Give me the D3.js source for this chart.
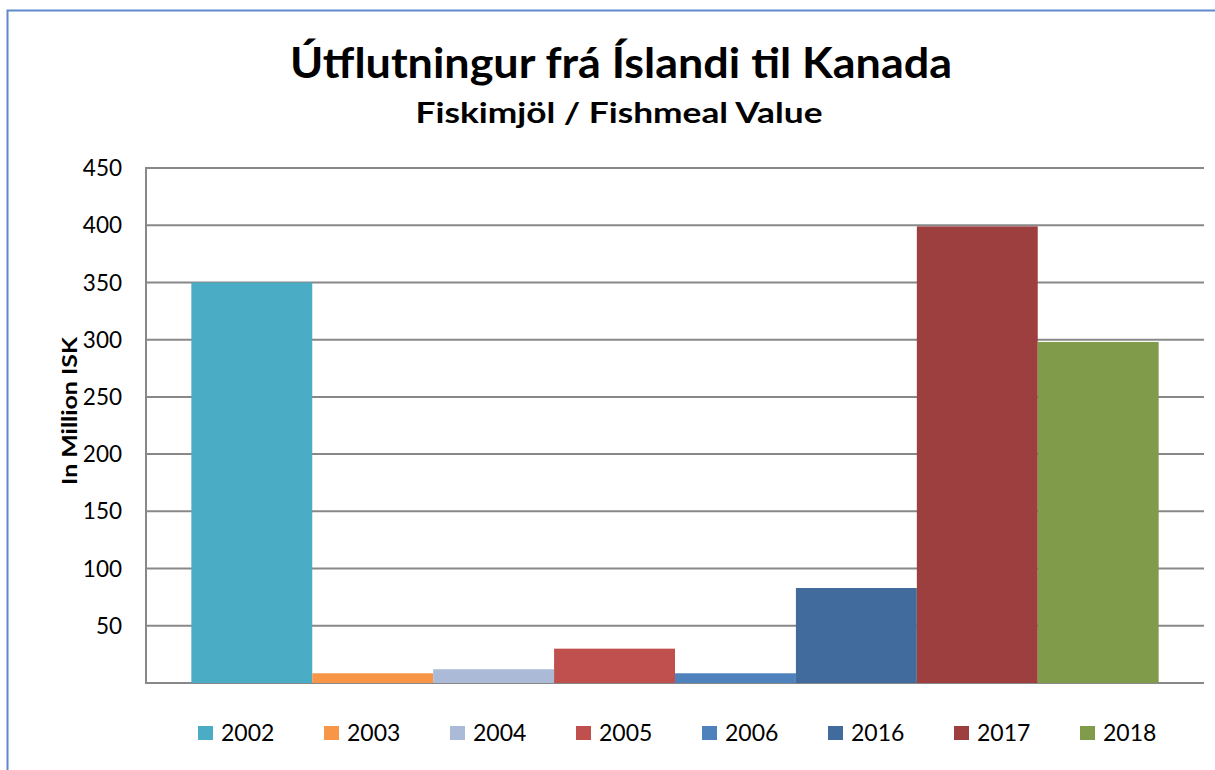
<!DOCTYPE html>
<html>
<head>
<meta charset="utf-8">
<script src="https://cdn.jsdelivr.net/npm/d3@7"></script>
<style>
  html, body { margin: 0; padding: 0; background: #fff; }
  svg { display: block; }
</style>
</head>
<body>
<svg id="chart" width="1215" height="770"></svg>
<script>
const years = ["2002", "2003", "2004", "2005", "2006", "2016", "2017", "2018"];
const values = [350, 8.5, 12, 30, 8.5, 83, 399, 298];
const colors = ["#4BACC6", "#F79646", "#AABAD7", "#C0504D", "#4F81BD", "#416B9C", "#9D3F3E", "#809B4A"];
const yTicks = [50, 100, 150, 200, 250, 300, 350, 400, 450];
const titleText = "Útflutningur frá Íslandi til Kanada";
const subtitleText = "Fiskimjöl / Fishmeal Value";
const yAxisTitle = "In Million ISK";

const svg = d3.select("#chart");
const font = "Lato, 'Open Sans', sans-serif";

// outer border
svg.append("rect")
  .attr("x", 7.5).attr("y", 10.5)
  .attr("width", 1400).attr("height", 1000)
  .attr("fill", "#fff")
  .attr("stroke", "#5E8ACD").attr("stroke-width", 2);

const plotL = 146, plotR = 1204, plotT = 168, plotB = 683;

const y = d3.scaleLinear().domain([0, 450]).range([plotB, plotT]);

// single category with 8 series; gap width 75% of a bar
const barW = (plotR - plotL) / (years.length + 0.75);
const gap = barW * 0.75 / 2;
const x = d3.scaleBand().domain(years).range([plotL + gap, plotR - gap]).padding(0);

// gridlines
svg.append("g").selectAll("line")
  .data(yTicks)
  .join("line")
  .attr("x1", plotL).attr("x2", plotR)
  .attr("y1", d => y(d)).attr("y2", d => y(d))
  .attr("stroke", "#888").attr("stroke-width", 2);

// y axis line
svg.append("line")
  .attr("x1", plotL).attr("x2", plotL)
  .attr("y1", plotT - 1).attr("y2", plotB + 1)
  .attr("stroke", "#888").attr("stroke-width", 2);

// baseline
svg.append("line")
  .attr("x1", plotL).attr("x2", plotR)
  .attr("y1", y(0)).attr("y2", y(0))
  .attr("stroke", "#888").attr("stroke-width", 2);

// bars
svg.append("g").selectAll("rect")
  .data(years.map((yr, i) => ({ yr, v: values[i], c: colors[i] })))
  .join("rect")
  .attr("x", d => x(d.yr))
  .attr("width", x.bandwidth())
  .attr("y", d => y(d.v))
  .attr("height", d => y(0) - y(d.v))
  .attr("fill", d => d.c);

// tick labels
svg.append("g").selectAll("text")
  .data(yTicks)
  .join("text")
  .attr("x", 122)
  .attr("y", d => y(d))
  .attr("dy", "0.36em")
  .attr("text-anchor", "end")
  .attr("font-family", font)
  .attr("font-size", 22.5)
  .attr("fill", "#000")
  .text(d => d);

// y axis title
svg.append("text")
  .attr("transform", "translate(77,411) rotate(-90)")
  .attr("text-anchor", "middle")
  .attr("font-family", font)
  .attr("font-weight", "bold")
  .attr("font-size", 21)
  .attr("textLength", 148)
  .attr("lengthAdjust", "spacingAndGlyphs")
  .attr("fill", "#000")
  .text(yAxisTitle);

// title
svg.append("text")
  .attr("x", 621).attr("y", 78)
  .attr("text-anchor", "middle")
  .attr("font-family", font)
  .attr("font-weight", "bold")
  .attr("font-size", 42)
  .attr("textLength", 662)
  .attr("lengthAdjust", "spacingAndGlyphs")
  .attr("fill", "#000")
  .text(titleText);

svg.append("text")
  .attr("x", 619).attr("y", 123)
  .attr("text-anchor", "middle")
  .attr("font-family", font)
  .attr("font-weight", "bold")
  .attr("font-size", 29)
  .attr("textLength", 407)
  .attr("lengthAdjust", "spacingAndGlyphs")
  .attr("fill", "#000")
  .text(subtitleText);

// legend
const legX0 = 198, legStep = 126, legY = 726;
const leg = svg.append("g").selectAll("g")
  .data(years.map((yr, i) => ({ yr, c: colors[i], i })))
  .join("g")
  .attr("transform", d => `translate(${legX0 + d.i * legStep},${legY})`);
leg.append("rect")
  .attr("width", 15).attr("height", 14)
  .attr("fill", d => d.c);
leg.append("text")
  .attr("x", 23).attr("y", 7)
  .attr("dy", "0.36em")
  .attr("font-family", font)
  .attr("font-size", 23)
  .attr("fill", "#000")
  .text(d => d.yr);
</script>
</body>
</html>
